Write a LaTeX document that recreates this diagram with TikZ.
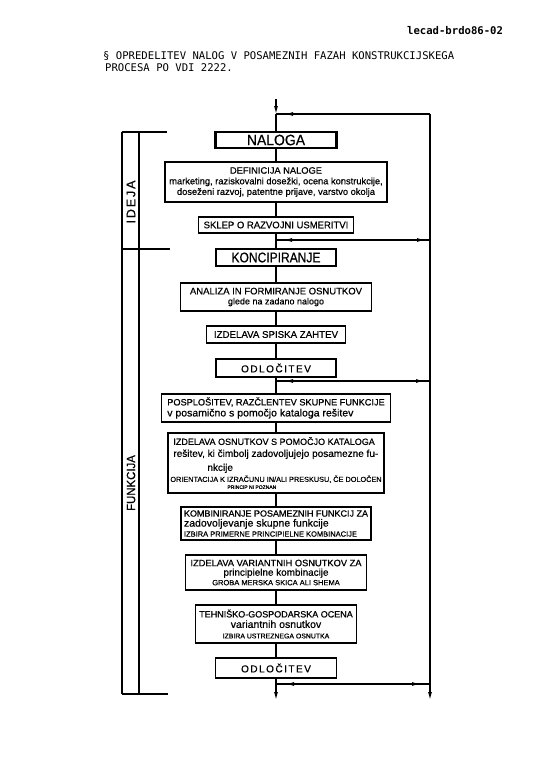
\documentclass[tikz,border=0pt]{standalone}
\usepackage{fontspec}
\setmainfont[FakeBold=0.6,AutoFakeBold=0.6]{Liberation Sans}
\newfontfamily\handfont[FakeBold=0.6]{Liberation Sans}
\newfontfamily\dotfont{DejaVu Sans Mono}
\newfontfamily\spacedfont[LetterSpace=15,FakeBold=0.6]{Liberation Sans}
\usetikzlibrary{arrows.meta}
\newcommand\fsz[2]{\fontsize{#1}{#2}\selectfont}
\newcommand\sx[2]{\scalebox{#1}[1]{#2}}
\begin{document}
\begin{tikzpicture}[x=1pt,y=-1pt,
  >={Latex[length=8pt,width=4pt]},
  box/.style={draw,line width=1.3pt,fill=white,inner sep=0pt,align=center},
  thickbox/.style={box,line width=2.2pt},
  conn/.style={line width=1.2pt},
  hdr/.style={anchor=base west,inner sep=0pt,font=\dotfont\fsz{10.6}{12}}
]
\useasboundingbox (0,0) rectangle (543,768);

% header
\node[hdr,font=\dotfont\bfseries\fsz{10.6}{12}] (code) at (407,35) {lecad-brdo86-02};
\node[hdr] (title1) at (103,59.5) {§ OPREDELITEV NALOG V POSAMEZNIH FAZAH KONSTRUKCIJSKEGA};
\node[hdr] (title2) at (105,71) {PROCESA PO VDI 2222.};

% boxes
\node[thickbox,minimum width=121,minimum height=16,font=\handfont\fsz{15}{15}] (nalo) at (276,140) {\sx{0.93}{NALOGA}};
\node[box,minimum width=222,minimum height=40,font=\handfont\fsz{9.3}{10.6}] (defi) at (276,182) {DEFINICIJA NALOGE\\marketing, raziskovalni dosežki, ocena konstrukcije,\\doseženi razvoj, patentne prijave, varstvo okolja};
\node[box,minimum width=155,minimum height=16,font=\handfont\fsz{9.5}{10}] (sklep) at (276,225) {SKLEP O RAZVOJNI USMERITVI};
\node[thickbox,minimum width=120,minimum height=17,font=\handfont\fsz{14}{14}] (konc) at (276,257.5) {\sx{0.86}{KONCIPIRANJE}};
\node[box,minimum width=191,minimum height=28,font=\handfont\fsz{9.5}{10}] (anal) at (276,297) {ANALIZA IN FORMIRANJE OSNUTKOV\\\fsz{9}{10}glede na zadano nalogo};
\node[box,minimum width=139,minimum height=17,font=\handfont\fsz{9.7}{10}] (spis) at (276,334.5) {IZDELAVA SPISKA ZAHTEV};
\node[box,minimum width=120,minimum height=18,font={\spacedfont\fsz{10}{10}}] (odl1) at (276,368) {ODLOČITEV};
\node[box,align=left,minimum width=229,minimum height=28,font=\handfont\fsz{9.2}{11}] (posp) at (276,408) {POSPLOŠITEV, RAZČLENTEV SKUPNE FUNKCIJE\\\fsz{10.5}{11}v posamično s pomočjo kataloga rešitev};
\node[box,align=left,minimum width=216,minimum height=60,font=\handfont\fsz{9}{11.5}] (osn) at (276,463) {\hspace*{3pt}IZDELAVA OSNUTKOV S POMOČJO KATALOGA\\[0.5pt]
\hspace*{3pt}\fsz{10}{11}rešitev, ki čimbolj zadovoljujejo posamezne fu-\\[2.5pt]
\hspace*{37pt}\fsz{10}{11}nkcije\\[-0.5pt]
\fsz{7.3}{8}ORIENTACIJA K IZRAČUNU IN/ALI PRESKUSU, ČE DOLOČEN\\[-4.5pt]
\hspace*{57pt}\fsz{5}{6}PRINCIP NI POZNAN};
\node[box,align=left,minimum width=190,minimum height=33,font=\handfont\fsz{9}{10}] (komb) at (276,523.5) {KOMBINIRANJE POSAMEZNIH FUNKCIJ ZA\\\fsz{10.5}{10}zadovoljevanje skupne funkcije\\\fsz{7.5}{8}IZBIRA PRIMERNE PRINCIPIELNE KOMBINACIJE};
\node[box,minimum width=181,minimum height=35,font=\handfont\fsz{9.3}{9.5}] (vari) at (276,572.5) {IZDELAVA VARIANTNIH OSNUTKOV ZA\\\fsz{9.9}{9}principielne kombinacije\\\fsz{7.5}{8}GROBA MERSKA SKICA ALI SHEMA};
\node[box,minimum width=161,minimum height=38,font=\handfont\fsz{9}{10.5}] (tehn) at (276,624) {TEHNIŠKO-GOSPODARSKA OCENA\\\fsz{10.5}{10}variantnih osnutkov\\\fsz{6.9}{8}IZBIRA USTREZNEGA OSNUTKA};
\node[box,minimum width=121,minimum height=20,font={\spacedfont\fsz{10}{10}}] (odl2) at (276,668) {ODLOČITEV};

% junctions
\coordinate (Tm) at (276,99);
\coordinate (J1) at (276,114);
\coordinate (R1) at (430,114);
\coordinate (J2) at (276,240);
\coordinate (R2) at (430,240);
\coordinate (J3) at (276,381);
\coordinate (R3) at (430,381);
\coordinate (J4) at (276,684);
\coordinate (R4) at (430,684);
\coordinate (Bm) at (276,700);
\coordinate (Rb) at (430,700);

% main flow
\draw[conn,->] (Tm) -- (J1);
\draw[conn] (J1) -- (nalo) -- (defi) -- (sklep) -- (J2) -- (konc) -- (anal) -- (spis) -- (odl1) -- (J3) -- (posp) -- (osn) -- (komb) -- (vari) -- (tehn) -- (odl2);
\draw[conn,->] (odl2) -- (J4) -- (Bm);
\draw[conn,->] (R1) -- (Rb);

% feedback lines (full line, then an arrowhead near each end)
\draw[conn] (R1) -- (J1);
\draw[conn,->,shorten >=9pt] (R1) -- (J1);
\draw[conn] (J2) -- (R2);
\draw[conn,->,shorten >=8pt] (R2) -- (J2);
\draw[conn,->,shorten >=5pt] (J2) -- (R2);
\draw[conn] (J3) -- (R3);
\draw[conn,->,shorten >=9pt] (R3) -- (J3);
\draw[conn,->,shorten >=6pt] (J3) -- (R3);
\draw[conn] (J4) -- (R4);
\draw[conn,->,shorten >=10pt] (R4) -- (J4);
\draw[conn,->,shorten >=10pt] (J4) -- (R4);

% left phase bracket
\coordinate (bT) at (122,132);
\coordinate (bB) at (122,694);
\coordinate (iT) at (139,132);
\coordinate (iB) at (139,694);
\draw[conn] (bT) -- (bB);
\draw[conn] (iT) -- (iB);
\draw[conn] (bT) -- (167,132);
\draw[conn] (122,249) -- (170,249);
\draw[conn] (bB) -- (168,694);
\node[rotate=90,font={\spacedfont\fsz{12.5}{12}}] (ideja) at (131,202) {IDEJA};
\node[rotate=90,font=\handfont\fsz{12}{12}] (funk) at (131,483) {\sx{0.95}{FUNKCIJA}};
\end{tikzpicture}
\end{document}
